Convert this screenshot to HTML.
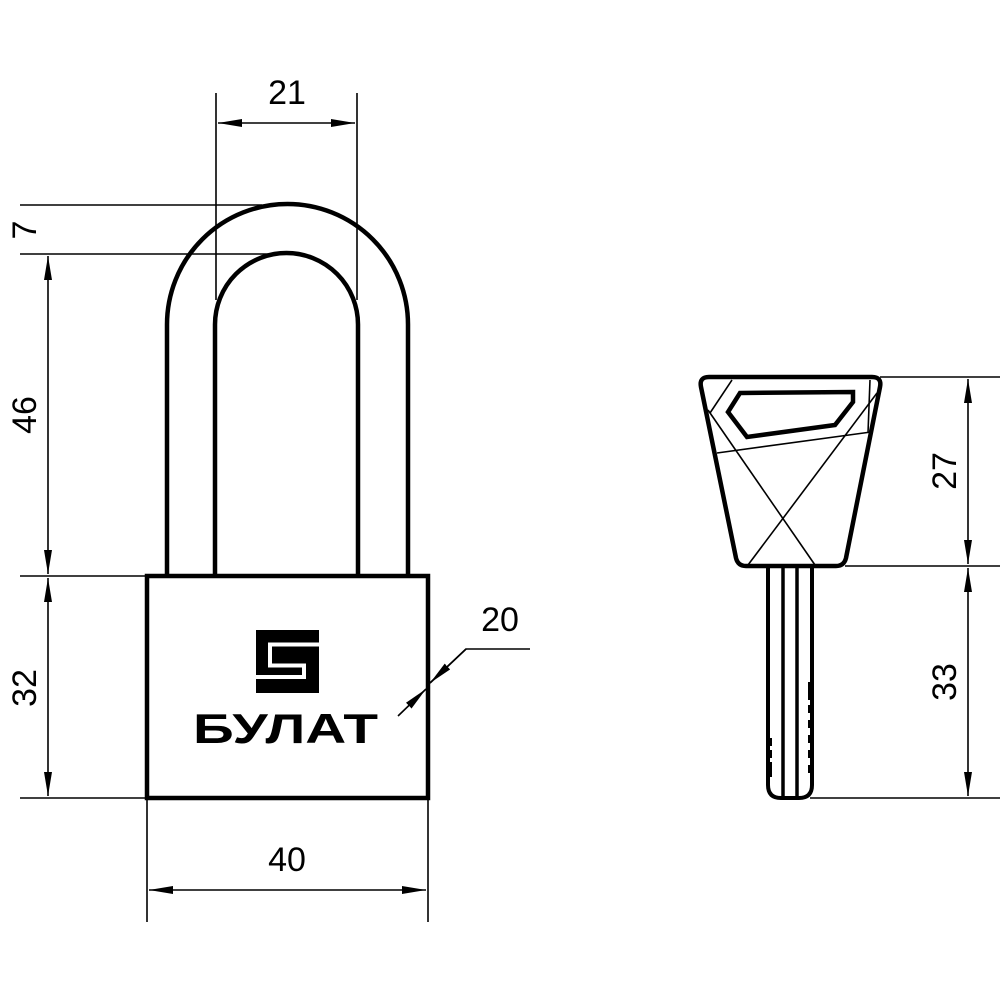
<!DOCTYPE html>
<html><head><meta charset="utf-8"><style>html,body{margin:0;padding:0;background:#fff}</style></head>
<body>
<svg width="1000" height="1000" viewBox="0 0 1000 1000" xmlns="http://www.w3.org/2000/svg" font-family="Liberation Sans, sans-serif">
<defs>
<marker id="a" viewBox="0 0 24 8" refX="24" refY="4" markerWidth="24" markerHeight="8" markerUnits="userSpaceOnUse" orient="auto-start-reverse"><path d="M0,0 L24,4 L0,8 Z" fill="#000"/></marker>
</defs>
<g fill="none" stroke="#000">
<path d="M167,576 V324.5 A120.5,120.5 0 0 1 408,324.5 V576" stroke-width="4.5"/>
<path d="M215,576 V324.5 A71.5,71.5 0 0 1 358,324.5 V576" stroke-width="4.5"/>
<rect x="147" y="576" width="281" height="222" fill="#fff" stroke-width="4.5"/>
<g stroke-width="1.6">
<line x1="216" y1="93" x2="216" y2="300"/><line x1="357" y1="93" x2="357" y2="300"/>
<line x1="218" y1="123" x2="355" y2="123" marker-start="url(#a)" marker-end="url(#a)"/>
<line x1="20" y1="205" x2="262" y2="205"/><line x1="20" y1="254" x2="282" y2="254"/>
<line x1="48" y1="256" x2="48" y2="574" marker-start="url(#a)" marker-end="url(#a)"/>
<line x1="20" y1="576" x2="147" y2="576"/><line x1="20" y1="798" x2="147" y2="798"/>
<line x1="48" y1="578" x2="48" y2="796" marker-start="url(#a)" marker-end="url(#a)"/>
<line x1="147" y1="798" x2="147" y2="922"/><line x1="428" y1="798" x2="428" y2="922"/>
<line x1="149" y1="890" x2="426" y2="890" marker-start="url(#a)" marker-end="url(#a)"/>
<polyline points="530,649 466,649 430,683"/>
<line x1="398" y1="716" x2="426" y2="689" marker-end="url(#a)"/>
<line x1="466" y1="649" x2="430" y2="683" marker-end="url(#a)"/>
<line x1="880" y1="377" x2="1000" y2="377"/><line x1="845" y1="566" x2="1000" y2="566"/><line x1="810" y1="798" x2="1000" y2="798"/>
<line x1="968" y1="379" x2="968" y2="564" marker-start="url(#a)" marker-end="url(#a)"/>
<line x1="968" y1="568" x2="968" y2="796" marker-start="url(#a)" marker-end="url(#a)"/>
</g>
<path d="M709,377 H872 Q882,377 880,387 L846,558 Q844,566 836,566 H746 Q738,566 736,558 L701,387 Q699,377 709,377 Z" stroke-width="4.5"/>
<polygon points="740,393 853,392 853,402 835,425 747,437 728,412" stroke-width="4.5"/>
<g stroke-width="1.6">
<line x1="732" y1="380" x2="710" y2="413"/>
<line x1="708" y1="410" x2="815" y2="565"/>
<line x1="748" y1="565" x2="877" y2="393"/>
<line x1="717" y1="453" x2="871" y2="432"/>
<line x1="870" y1="380" x2="868" y2="433"/>
</g>
<path d="M768,566 V785 Q768,798 781,798 H799 Q812,798 812,785 V566" stroke-width="4"/>
<line x1="783" y1="566" x2="783" y2="798" stroke-width="3.5"/>
<line x1="797" y1="566" x2="797" y2="798" stroke-width="3.5"/>
</g>
<g fill="#000">
<rect x="808" y="682" width="5" height="18"/><rect x="808" y="705" width="5" height="8"/><rect x="808" y="720" width="5" height="8"/><rect x="808" y="735" width="5" height="8"/><rect x="808" y="750" width="5" height="8"/><rect x="808" y="765" width="5" height="8"/>
<rect x="767" y="738" width="5" height="8"/><rect x="767" y="750" width="5" height="8"/><rect x="767" y="762" width="5" height="15"/>
<rect x="256" y="630" width="63" height="63"/>
</g>
<polyline points="319,644.5 270,644.5 270,665.5 304,665.5 304,677 256,677" fill="none" stroke="#fff" stroke-width="4"/>
<g fill="#000" font-size="34" text-anchor="middle">
<text x="287" y="104">21</text>
<text x="287" y="871">40</text>
<text x="500" y="631">20</text>
<text transform="translate(36,230) rotate(-90)">7</text>
<text transform="translate(36,415) rotate(-90)">46</text>
<text transform="translate(36,688) rotate(-90)">32</text>
<text transform="translate(956,471) rotate(-90)">27</text>
<text transform="translate(956,682) rotate(-90)">33</text>
</g>
<text x="193" y="743" font-size="42" font-weight="bold" textLength="185" lengthAdjust="spacingAndGlyphs">БУЛАТ</text>
</svg>
</body></html>
